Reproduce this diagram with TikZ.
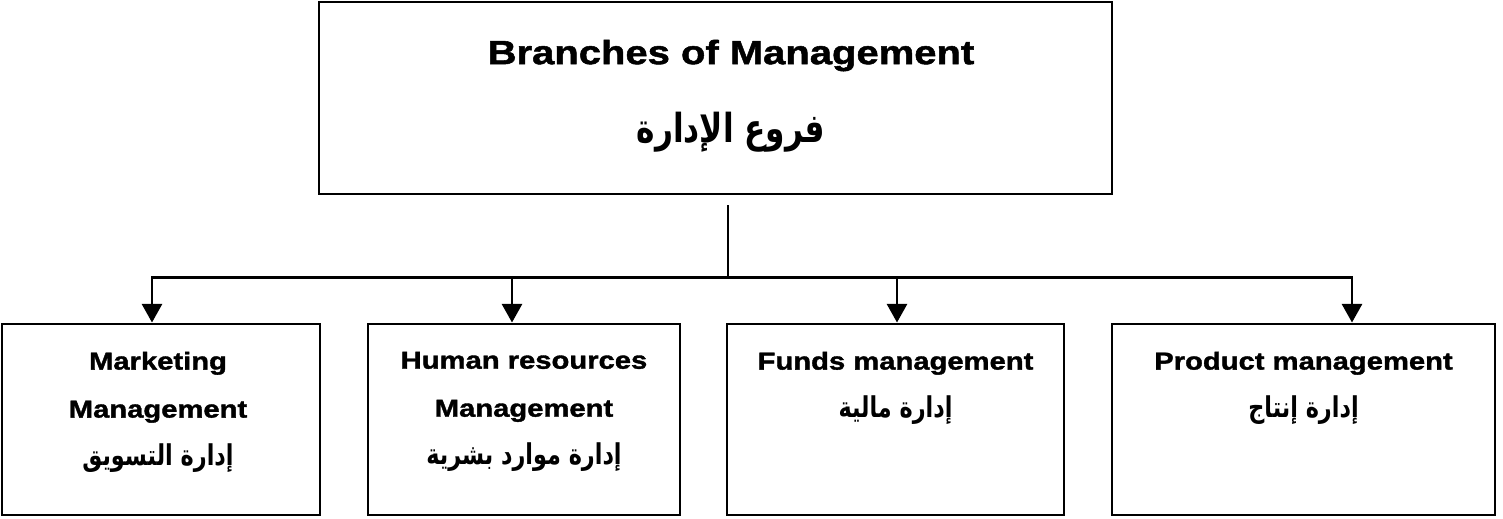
\documentclass[tikz,border=0pt]{standalone}
\usepackage{fontspec}
\setmainfont[FakeStretch=1.19,BoldFeatures={FakeBold=1.5}]{Liberation Sans}
\newfontfamily\arabicfont[Script=Arabic,FakeStretch=0.78]{DejaVu Sans}
\TeXXeTstate=1
\usetikzlibrary{arrows.meta,calc}

\begin{document}
\begin{tikzpicture}[x=0.75pt,y=-0.75pt,
    box/.style={draw,line width=2.2pt,inner sep=0pt,minimum height=143.25pt},
    head/.style={font=\fontsize{25.2}{59}\selectfont\bfseries,align=center,anchor=north,inner sep=0pt},
    branch/.style={font=\fontsize{18.4}{36}\selectfont\bfseries,align=center,anchor=north,inner sep=0pt},
    link/.style={line width=2.2pt,-{Triangle[width=15pt,length=14pt]}}]

  \useasboundingbox (0,0) rectangle (1503,518);

  \node[box,minimum width=594.75pt,minimum height=144pt] (top) at (715.5,98) {};
  \node[head] (toptext) at ($(top.north)+(15.5,39)$) {Branches of Management\\{\arabicfont\fontsize{30}{59}\selectfont\beginR فروع الإدارة\endR}};

  \node[box,minimum width=238.5pt] (mkt) at (161,419.5) {};
  \node[box,minimum width=234pt] (hr) at (524,419.5) {};
  \node[box,minimum width=252.75pt] (fund) at (895.5,419.5) {};
  \node[box,minimum width=287.25pt] (prod) at (1303.5,419.5) {};

  \node[branch] (mkttext) at ($(mkt.north)+(-3,29)$) {Marketing\\Management\\{\arabicfont\fontsize{21.5}{36}\selectfont\beginR إدارة التسويق\endR}};
  \node[branch] (hrtext) at ($(hr.north)+(0,29)$) {Human resources\\Management\\{\arabicfont\fontsize{21.5}{36}\selectfont\beginR إدارة موارد بشرية\endR}};
  \node[branch] (fundtext) at ($(fund.north)+(0,29)$) {Funds management\\{\arabicfont\fontsize{21.5}{36}\selectfont\beginR إدارة مالية\endR}};
  \node[branch] (prodtext) at ($(prod.north)+(0,29)$) {Product management\\{\arabicfont\fontsize{21.5}{36}\selectfont\beginR إدارة إنتاج\endR}};

  \coordinate (stem) at ($(top.south)+(12.5,10)$);
  \coordinate (split) at ($(stem)+(0,72)$);
  \draw[line width=2.2pt] (stem) -- (split);
  \foreach \b/\dx in {mkt/-9,hr/-12,fund/1.5,prod/48.5}
    \draw[link] (split) -| ($(\b.north)+(\dx,0)$);

\end{tikzpicture}
\end{document}
